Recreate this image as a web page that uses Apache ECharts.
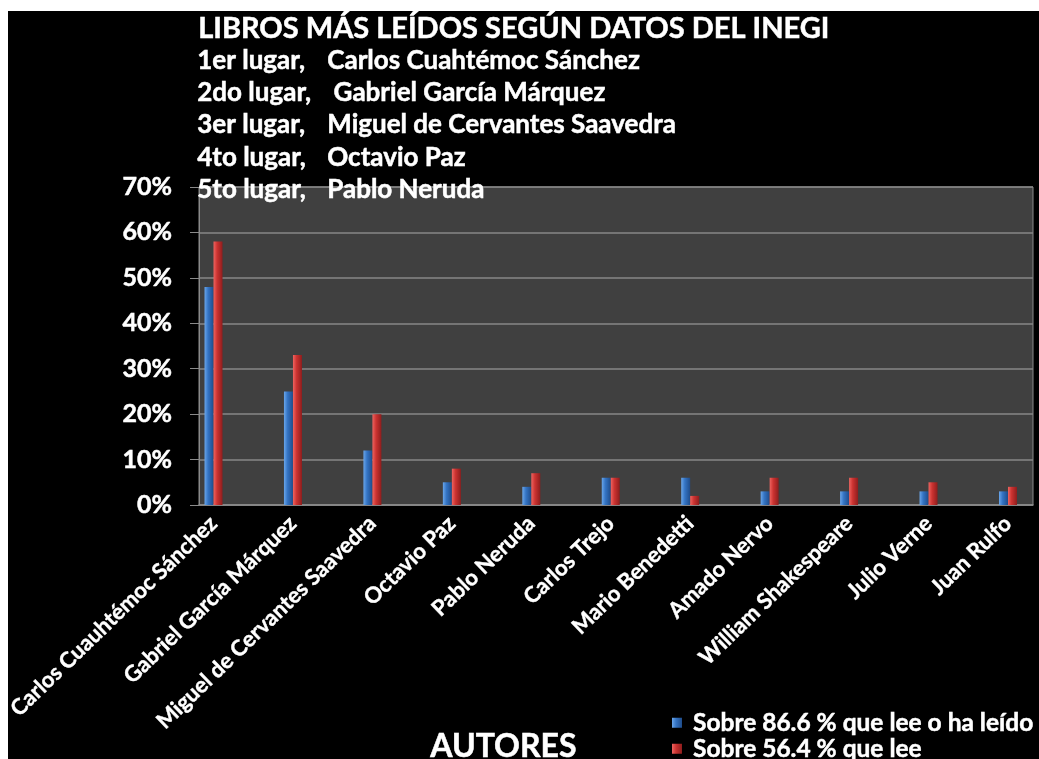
<!DOCTYPE html>
<html>
<head>
<meta charset="utf-8">
<script src="https://cdn.jsdelivr.net/npm/echarts@6/dist/echarts.min.js"></script>
<style>
  html, body { margin: 0; padding: 0; background: #ffffff; width: 1039px; height: 759px; overflow: hidden; }
  #chart { position: absolute; left: 8px; top: 11px; width: 1031px; height: 748px; background: #000000; }
</style>
</head>
<body>
<div id="chart"></div>
<script>
const categories = ['Carlos Cuauhtémoc Sánchez', 'Gabriel García Márquez', 'Miguel de Cervantes Saavedra', 'Octavio Paz', 'Pablo Neruda', 'Carlos Trejo', 'Mario Benedetti', 'Amado Nervo', 'William Shakespeare', 'Julio Verne', 'Juan Rulfo'];
const seriesNames = ['Sobre 86.6 % que lee o ha leído', 'Sobre 56.4 % que lee'];
const readOrHasRead = [48, 25, 12, 5, 4, 6, 6, 3, 3, 3, 3];
const reads = [58, 33, 20, 8, 7, 6, 2, 6, 6, 5, 4];
const yMin = 0, yMax = 70, yStep = 10;
const titleText = 'LIBROS MÁS LEÍDOS SEGÚN DATOS DEL INEGI';
const places = ['1er lugar,', '2do lugar,', '3er lugar,', '4to lugar,', '5to lugar,'];
const placeNames = ['Carlos Cuahtémoc Sánchez', ' Gabriel García Márquez', 'Miguel de Cervantes Saavedra', 'Octavio Paz', 'Pablo Neruda'];
const xAxisTitle = 'AUTORES';

const FONT = 'Lato';
const chart = echarts.init(document.getElementById('chart'), null, { renderer: 'canvas' });

const blueGrad = new echarts.graphic.LinearGradient(0, 0, 1, 0, [
  { offset: 0, color: '#6aa6ea' }, { offset: 0.4, color: '#3474c4' }, { offset: 1, color: '#1f4c8a' }
]);
const redGrad = new echarts.graphic.LinearGradient(0, 0, 1, 0, [
  { offset: 0, color: '#ee6460' }, { offset: 0.4, color: '#cc3331' }, { offset: 1, color: '#8e1d1d' }
]);

const txt = (size) => ({ fill: '#ffffff', font: 'bold ' + size + 'px ' + FONT, stroke: '#ffffff', lineWidth: 0.5 });

const textEls = [];
textEls.push({ type: 'text', left: 190, top: 3, z: 100, style: Object.assign({ text: titleText }, txt(29)) });
places.forEach((p, i) => {
  textEls.push({ type: 'text', left: 189, top: 36 + i * 32.4, z: 100, style: Object.assign({ text: p }, txt(26)) });
  textEls.push({ type: 'text', left: 319, top: 36 + i * 32.4, z: 100, style: Object.assign({ text: placeNames[i] }, txt(26)) });
});
textEls.push({ type: 'text', left: 422, top: 719, z: 100, style: Object.assign({ text: xAxisTitle }, txt(32)) });

const legendText = { color: '#ffffff', fontSize: 24.5, fontWeight: 'bold', fontFamily: FONT, padding: [0, 0, 0, 6], textBorderColor: '#ffffff', textBorderWidth: 0.5 };

chart.setOption({
  backgroundColor: '#000000',
  animation: false,
  textStyle: { fontFamily: FONT },
  graphic: textEls,
  legend: [
    { left: 659, top: 694, itemWidth: 10, itemHeight: 10, icon: 'rect', textStyle: legendText, data: [seriesNames[0]] },
    { left: 659, top: 720, itemWidth: 10, itemHeight: 10, icon: 'rect', textStyle: legendText, data: [seriesNames[1]] }
  ],
  grid: [
    { left: 191, top: 176, width: 834, height: 318, show: true, backgroundColor: '#404040', borderColor: '#8a8a8a', borderWidth: 1, containLabel: false, outerBoundsMode: 'none' },
    { left: 165.8, top: 176, width: 873.9, height: 318, containLabel: false, outerBoundsMode: 'none' }
  ],
  xAxis: [
    { gridIndex: 0, type: 'category', data: categories, axisLabel: { show: false }, axisTick: { show: false },
      axisLine: { show: true, lineStyle: { color: '#8a8a8a', width: 1.5 } }, splitLine: { show: false } },
    { gridIndex: 1, type: 'category', data: categories,
      axisLine: { show: false }, axisTick: { show: false }, splitLine: { show: false },
      axisLabel: { rotate: 44, margin: 15, interval: 0, color: '#ffffff', fontSize: 22, fontWeight: 'bold', fontFamily: FONT,
        textBorderColor: '#ffffff', textBorderWidth: 0.4 } }
  ],
  yAxis: [
    { gridIndex: 0, type: 'value', min: yMin, max: yMax, interval: yStep,
      axisLine: { show: true, lineStyle: { color: '#8a8a8a', width: 1 } },
      axisTick: { show: true, length: 9, lineStyle: { color: '#8a8a8a' } },
      splitLine: { show: true, lineStyle: { color: '#878787', width: 1.5 } },
      axisLabel: { formatter: '{value}%', margin: 27, color: '#ffffff', fontSize: 25, fontWeight: 'bold', fontFamily: FONT,
        textBorderColor: '#ffffff', textBorderWidth: 0.5 } },
    { gridIndex: 1, type: 'value', min: yMin, max: yMax, interval: yStep, show: false }
  ],
  series: [
    { name: seriesNames[0], type: 'bar', xAxisIndex: 1, yAxisIndex: 1, data: readOrHasRead,
      barWidth: 9, barGap: '0%', itemStyle: { color: blueGrad } },
    { name: seriesNames[1], type: 'bar', xAxisIndex: 1, yAxisIndex: 1, data: reads,
      barWidth: 9, barGap: '0%', itemStyle: { color: redGrad } }
  ]
});
</script>
</body>
</html>
